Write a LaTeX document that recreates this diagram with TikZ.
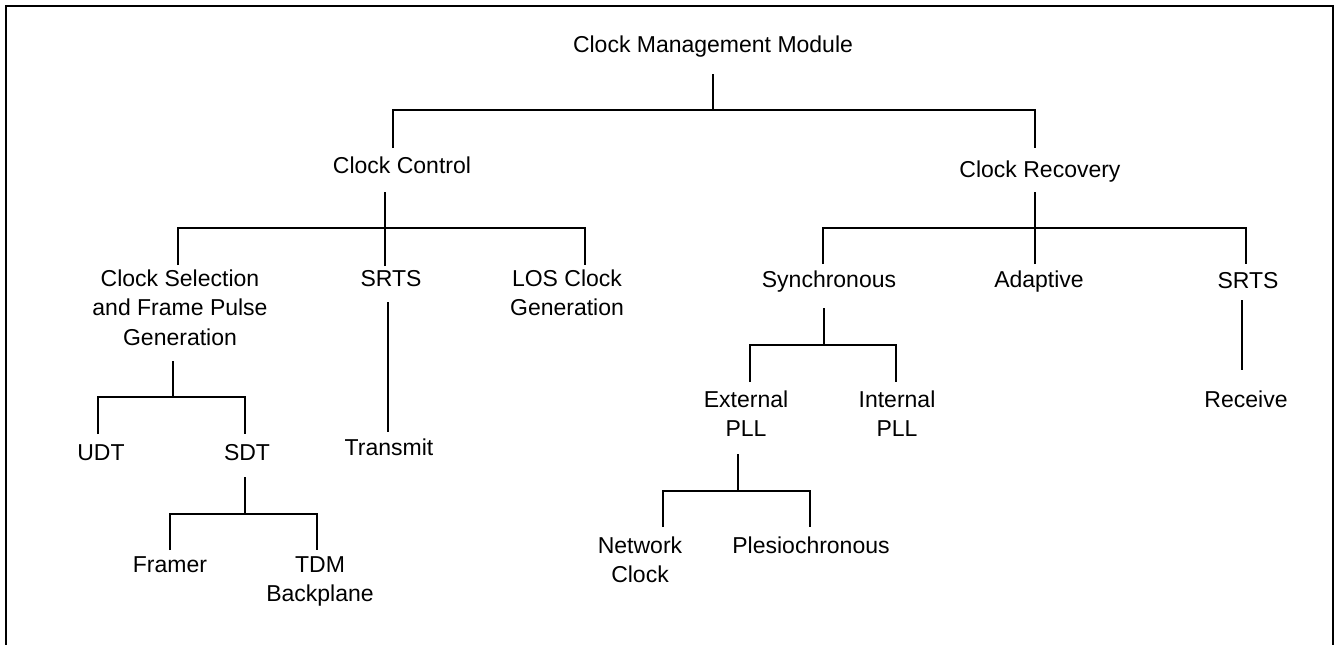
\documentclass[tikz,border=0pt]{standalone}
\usepackage{fontspec}
\setmainfont{Liberation Sans}
\begin{document}
\begin{tikzpicture}[x=1pt,y=-1pt,
  lbl/.style={anchor=base, align=center, inner sep=0pt, font=\fontsize{23}{29.5}\selectfont},
  conn/.style={draw=black, line width=2pt},
  frame/.style={draw=black, line width=2.5pt}]
\useasboundingbox (0,0) rectangle (1336,645);
\clip (0,0) rectangle (1336,645);
\fill[white] (0,0) rectangle (1336,645);
\draw[frame] (6,660) -- (6,6) -- (1333,6) -- (1333,660);

% nodes (base = baseline of last line)
\node[lbl] (root) at (713,52) {Clock Management Module};
\node[lbl] (cc) at (402,173) {Clock Control};
\node[lbl] (cr) at (1040,177) {Clock Recovery};
\node[lbl] (sel) at (180,345) {Clock Selection\\and Frame Pulse\\Generation};
\node[lbl] (srtsA) at (391,286) {SRTS};
\node[lbl] (los) at (567,315.5) {LOS Clock\\Generation};
\node[lbl] (sync) at (829,287) {Synchronous};
\node[lbl] (adapt) at (1039,287) {Adaptive};
\node[lbl] (srtsB) at (1248,288) {SRTS};
\node[lbl] (udt) at (101,460) {UDT};
\node[lbl] (sdt) at (247,460) {SDT};
\node[lbl] (transmit) at (389,455) {Transmit};
\node[lbl] (ext) at (746,436.5) {External\\PLL};
\node[lbl] (int) at (897,436.5) {Internal\\PLL};
\node[lbl] (receive) at (1246,407) {Receive};
\node[lbl] (network) at (640,582.5) {Network\\Clock};
\node[lbl] (plesio) at (811,553) {Plesiochronous};
\node[lbl] (framer) at (170,572) {Framer};
\node[lbl] (tdm) at (320,601.5) {TDM\\Backplane};

% junctions
\coordinate (j0) at ([yshift=-58pt]root.base);
\coordinate (j1) at ([xshift=-17pt,yshift=-55pt]cc.base);
\coordinate (j2) at ([xshift=-5pt,yshift=-51pt]cr.base);
\coordinate (j3) at ([xshift=-7pt,yshift=-52pt]sel.base);
\coordinate (j4) at ([xshift=-5pt,yshift=-58pt]sync.base);
\coordinate (j5) at ([xshift=-2pt,yshift=-54pt]sdt.base);
\coordinate (j6) at ([xshift=-8pt,yshift=-54.5pt]ext.base);

% connectors
\draw[conn] ([yshift=-22pt]root.base) -- (j0);
\draw[conn] ([xshift=-9pt,yshift=25pt]cc.base) |- (j0) -| ([xshift=-5pt,yshift=29pt]cr.base);

\draw[conn] ([xshift=-17pt,yshift=-19pt]cc.base) -- (j1);
\draw[conn] ([xshift=-2pt,yshift=80pt]sel.base) |- (j1) -| ([xshift=18pt,yshift=50.5pt]los.base);
\draw[conn] ([xshift=-6pt,yshift=20pt]srtsA.base) -- (j1);

\draw[conn] ([xshift=-5pt,yshift=-15pt]cr.base) -- (j2);
\draw[conn] ([xshift=-6pt,yshift=23pt]sync.base) |- (j2) -| ([xshift=-2pt,yshift=24pt]srtsB.base);
\draw[conn] ([xshift=-4pt,yshift=23pt]adapt.base) -- (j2);

\draw[conn] ([xshift=-7pt,yshift=-16pt]sel.base) -- (j3);
\draw[conn] ([xshift=-3pt,yshift=26pt]udt.base) |- (j3) -| ([xshift=-2pt,yshift=26pt]sdt.base);

\draw[conn] ([xshift=-3pt,yshift=-16pt]srtsA.base) -- ([xshift=-1pt,yshift=23pt]transmit.base);

\draw[conn] ([xshift=-5pt,yshift=-21pt]sync.base) -- (j4);
\draw[conn] ([xshift=4pt,yshift=54.5pt]ext.base) |- (j4) -| ([xshift=-1pt,yshift=54.5pt]int.base);

\draw[conn] ([xshift=-6pt,yshift=-12pt]srtsB.base) -- ([xshift=-4pt,yshift=37pt]receive.base);

\draw[conn] ([xshift=-8pt,yshift=-17.5pt]ext.base) -- (j6);
\draw[conn] ([xshift=23pt,yshift=55.5pt]network.base) |- (j6) -| ([xshift=-1pt,yshift=26pt]plesio.base);

\draw[conn] ([xshift=-2pt,yshift=-17pt]sdt.base) -- (j5);
\draw[conn] ([yshift=22pt]framer.base) |- (j5) -| ([xshift=-3pt,yshift=51.5pt]tdm.base);
\end{tikzpicture}
\end{document}
